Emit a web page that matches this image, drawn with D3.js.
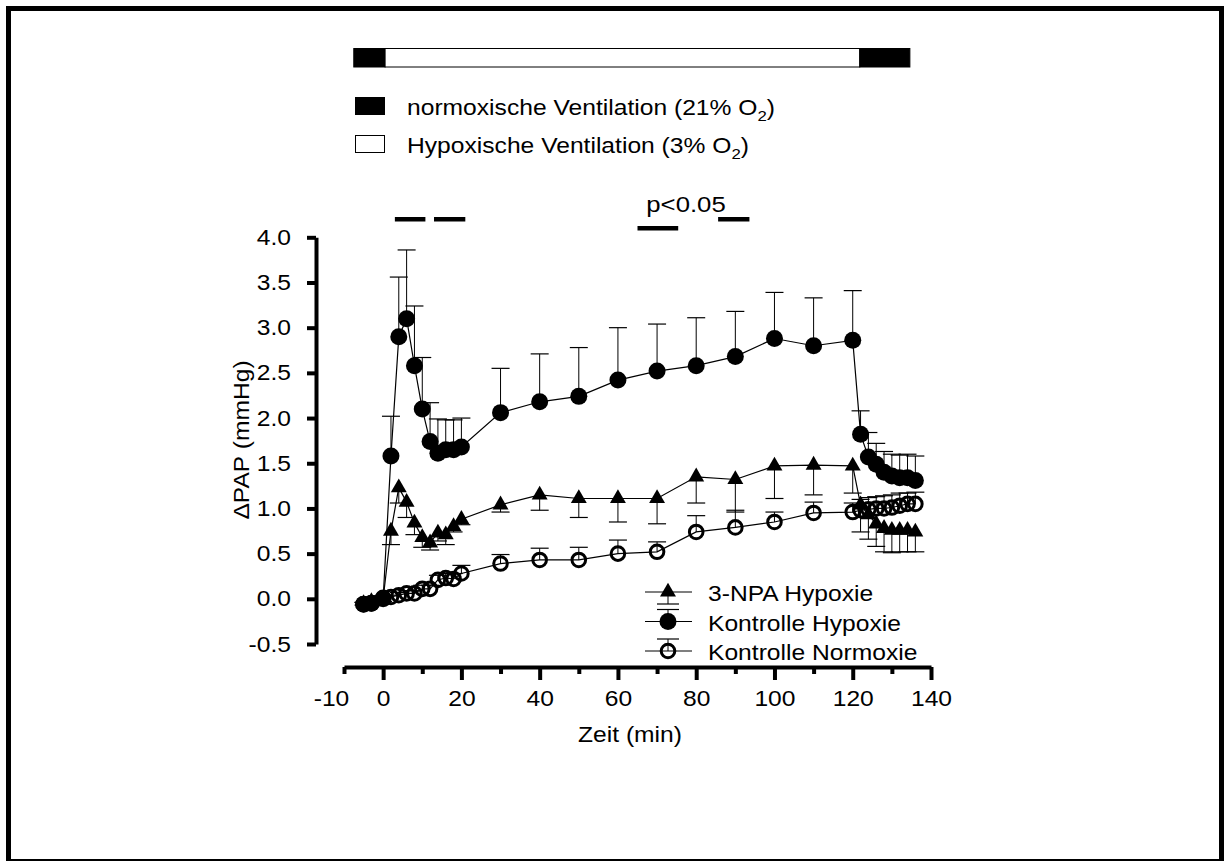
<!DOCTYPE html>
<html><head><meta charset="utf-8">
<script src="https://cdn.jsdelivr.net/npm/d3@7"></script>
<style>
body{margin:0;background:#fff;}
svg text{font-family:"Liberation Sans",Arial,sans-serif;fill:#000;}
</style></head>
<body>
<svg id="c" width="1224" height="861"></svg>
<script>
// ---- data ----
const times = [-5,-3,0,2,4,6,8,10,12,14,16,18,20,30,40,50,60,70,80,90,100,110,120,122,124,126,128,130,132,134,136];
const npaHypoxie = [-0.05,-0.03,0.0,0.75,1.23,1.07,0.84,0.68,0.62,0.73,0.71,0.80,0.88,1.04,1.15,1.11,1.11,1.11,1.35,1.32,1.47,1.48,1.47,1.04,0.93,0.83,0.78,0.76,0.76,0.76,0.74];
const npaHypoxieErr = [0.02,0.02,0.03,0.15,0.17,0.17,0.13,0.11,0.08,0.09,0.11,0.06,0.06,0.08,0.17,0.21,0.26,0.28,0.29,0.36,0.36,0.33,0.30,0.30,0.27,0.25,0.26,0.25,0.24,0.24,0.22];
const kontrolleHypoxie = [-0.06,-0.05,0.0,1.58,2.90,3.10,2.58,2.10,1.74,1.61,1.65,1.65,1.68,2.06,2.18,2.24,2.42,2.52,2.58,2.68,2.88,2.80,2.86,1.82,1.57,1.49,1.40,1.36,1.34,1.34,1.31];
const kontrolleHypoxieErr = [0.02,0.02,0.03,0.44,0.66,0.76,0.66,0.57,0.43,0.38,0.33,0.33,0.32,0.49,0.53,0.54,0.58,0.52,0.53,0.50,0.51,0.53,0.55,0.26,0.27,0.23,0.23,0.24,0.25,0.26,0.27];
const kontrolleNormoxie = [-0.06,-0.05,0.01,0.02,0.04,0.06,0.06,0.11,0.11,0.21,0.23,0.22,0.28,0.39,0.43,0.43,0.50,0.52,0.74,0.79,0.85,0.95,0.96,0.98,0.99,1.00,1.00,1.01,1.03,1.05,1.05];
const kontrolleNormoxieErr = [0.02,0.02,0.02,0.02,0.03,0.03,0.03,0.04,0.04,0.05,0.05,0.06,0.09,0.10,0.13,0.14,0.15,0.11,0.18,0.19,0.11,0.12,0.10,0.12,0.13,0.13,0.14,0.14,0.14,0.12,0.13];
const seriesNames = ["3-NPA Hypoxie","Kontrolle Hypoxie","Kontrolle Normoxie"];
const xTickLabels = [-10,0,20,40,60,80,100,120,140];
const xMinorTicks = [10,30,50,70,90,110,130];
const yTickLabels = [-0.5,0,0.5,1,1.5,2,2.5,3,3.5,4];
// ventilation periods (min)
const periodStart = [-7.5,0.5,121.8];
const periodEnd = [0.5,121.8,134.6];
const periodNormoxic = [true,false,true];
// significance bars (min)
const sigStart = [3,13,65,85.6];
const sigEnd = [10.8,21,75.4,93.6];
const sigRow = [0,0,1,0];
const sigLabel = "p<0.05";

// ---- chart ----
const K = 1.12; // horizontal text stretch of the original
function stretch(sel){
  sel.each(function(){
    const t = d3.select(this);
    const x0 = +t.attr("x")||0, y0 = +t.attr("y")||0;
    t.attr("transform",`translate(${x0},${y0}) scale(${K},1) translate(${-x0},${-y0})`);
  });
  return sel;
}
const svg = d3.select("#c");
svg.append("rect").attr("x",8.5).attr("y",8.5).attr("width",1213).attr("height",853)
  .attr("fill","none").attr("stroke","#000").attr("stroke-width",5);

const x = d3.scaleLinear().domain([-10,140]).range([344,931]);
const y = d3.scaleLinear().domain([-0.5,4.0]).range([644,237.3]);

// axes
const fmtY = d => d3.format(".1f")(d).replace("\u2212","-");
const fmtX = d => d3.format("d")(d).replace("\u2212","-");
const yAxis = svg.append("g").attr("transform","translate(316,0)")
  .call(d3.axisLeft(y).tickValues(yTickLabels).tickFormat(fmtY).tickSize(9).tickSizeOuter(0).tickPadding(16));
const xAxis = svg.append("g").attr("transform","translate(0,667)")
  .call(d3.axisBottom(x).tickValues(xTickLabels).tickFormat(fmtX).tickSize(13).tickSizeOuter(0).tickPadding(10));
const m10 = xAxis.selectAll(".tick").filter(d=>d===-10);
m10.select("line").attr("y2",7);
m10.select("text").attr("x",-13);
const xMinor = svg.append("g").attr("transform","translate(0,667)")
  .call(d3.axisBottom(x).tickValues(xMinorTicks).tickFormat("").tickSize(7).tickSizeOuter(0));
xMinor.select(".domain").remove();
[yAxis,xAxis,xMinor].forEach(g=>{
  g.selectAll(".domain").attr("stroke","#000").attr("stroke-width",4);
  g.selectAll(".tick line").attr("stroke","#000").attr("stroke-width",4);
  g.selectAll(".tick text").attr("font-size",22).attr("font-family","Liberation Sans, Arial, sans-serif").attr("fill","#000");
  stretch(g.selectAll(".tick text"));
});

stretch(svg.append("text").attr("x",630).attr("y",742).attr("text-anchor","middle").attr("font-size",22).text("Zeit (min)"));
svg.append("text").attr("transform",`translate(249,440) rotate(-90) scale(${K},1)`).attr("text-anchor","middle").attr("font-size",22).text("ΔPAP (mmHg)");

// ventilation bar
const bar = svg.append("g");
bar.selectAll("rect").data(periodStart).join("rect")
  .attr("x",(d,i)=>x(d)).attr("width",(d,i)=>x(periodEnd[i])-x(d))
  .attr("y",48.5).attr("height",18.5)
  .attr("fill",(d,i)=>periodNormoxic[i]?"#000":"#fff").attr("stroke","#000").attr("stroke-width",1);

// top legend
const tl = svg.append("g");
const tlRows = [{fill:"#000",txt:"normoxische Ventilation (21% O",y:115},{fill:"#fff",txt:"Hypoxische Ventilation (3% O",y:153}];
tlRows.forEach(r=>{
  tl.append("rect").attr("x",355.5).attr("y",r.y-17.5).attr("width",29).attr("height",17)
    .attr("fill",r.fill).attr("stroke","#000").attr("stroke-width",1);
  const t = tl.append("text").attr("x",407).attr("y",r.y).attr("font-size",22);
  t.append("tspan").text(r.txt);
  t.append("tspan").attr("dy",6).attr("font-size",15).text("2");
  t.append("tspan").attr("dy",-6).text(")");
  stretch(t);
});

// significance
const sig = svg.append("g");
sig.selectAll("rect").data(sigStart).join("rect")
  .attr("x",d=>x(d)).attr("width",(d,i)=>x(sigEnd[i])-x(d))
  .attr("y",(d,i)=>sigRow[i]?226:217).attr("height",4.5).attr("fill","#000");
stretch(sig.append("text").attr("x",x(77.4)).attr("y",212).attr("text-anchor","middle").attr("font-size",23).text(sigLabel));

// series
const series = [
  {vals:npaHypoxie, err:npaHypoxieErr, dir:1, sym:"tri"},
  {vals:kontrolleNormoxie, err:kontrolleNormoxieErr, dir:-1, sym:"open"},
  {vals:kontrolleHypoxie, err:kontrolleHypoxieErr, dir:-1, sym:"filled"}
];
const g = svg.append("g");
const capW = 9;
series.forEach(s=>{
  const eg = g.append("g");
  times.forEach((t,i)=>{
    const v = s.vals[i], e = s.err[i];
    const yEnd = s.dir>0 ? y(v-e) : y(v+e);
    eg.append("line").attr("x1",x(t)).attr("x2",x(t)).attr("y1",y(v)).attr("y2",yEnd).attr("stroke","#000").attr("stroke-width",1);
    eg.append("line").attr("x1",x(t)-capW).attr("x2",x(t)+capW).attr("y1",yEnd).attr("y2",yEnd).attr("stroke","#000").attr("stroke-width",1.2);
  });
});
const line = d3.line().x((d,i)=>x(times[i])).y(d=>y(d));
series.forEach(s=>{
  g.append("path").attr("d",line(s.vals)).attr("fill","none").attr("stroke","#000").attr("stroke-width",1.2);
});
const triPath = d3.symbol().type(d3.symbolTriangle).size(110)();
function drawMarker(sel, sym, cx, cy){
  if(sym==="tri") sel.append("path").attr("d",triPath).attr("transform",`translate(${cx},${cy})`).attr("fill","#000");
  else if(sym==="open") sel.append("circle").attr("cx",cx).attr("cy",cy).attr("r",6.8).attr("fill","none").attr("stroke","#000").attr("stroke-width",3);
  else sel.append("circle").attr("cx",cx).attr("cy",cy).attr("r",8.5).attr("fill","#000");
}
series.forEach(s=>{
  const mg = g.append("g");
  times.forEach((t,i)=>drawMarker(mg,s.sym,x(t),y(s.vals[i])));
});

// in-plot legend
const lg = svg.append("g");
const legOrder = [{sym:"tri",dir:1},{sym:"filled",dir:-1},{sym:"open",dir:-1}];
legOrder.forEach((l,i)=>{
  const cy = 592 + i*29.5, cx = 668;
  lg.append("line").attr("x1",645).attr("x2",692).attr("y1",cy).attr("y2",cy).attr("stroke","#000").attr("stroke-width",1.2);
  const ye = cy + l.dir*12;
  lg.append("line").attr("x1",cx).attr("x2",cx).attr("y1",cy).attr("y2",ye).attr("stroke","#000").attr("stroke-width",1);
  lg.append("line").attr("x1",cx-capW-2).attr("x2",cx+capW+2).attr("y1",ye).attr("y2",ye).attr("stroke","#000").attr("stroke-width",1.2);
  drawMarker(lg,l.sym,cx,cy);
  stretch(lg.append("text").attr("x",708).attr("y",cy+9.5).attr("font-size",22).text(seriesNames[i]));
});
</script>
</body></html>
